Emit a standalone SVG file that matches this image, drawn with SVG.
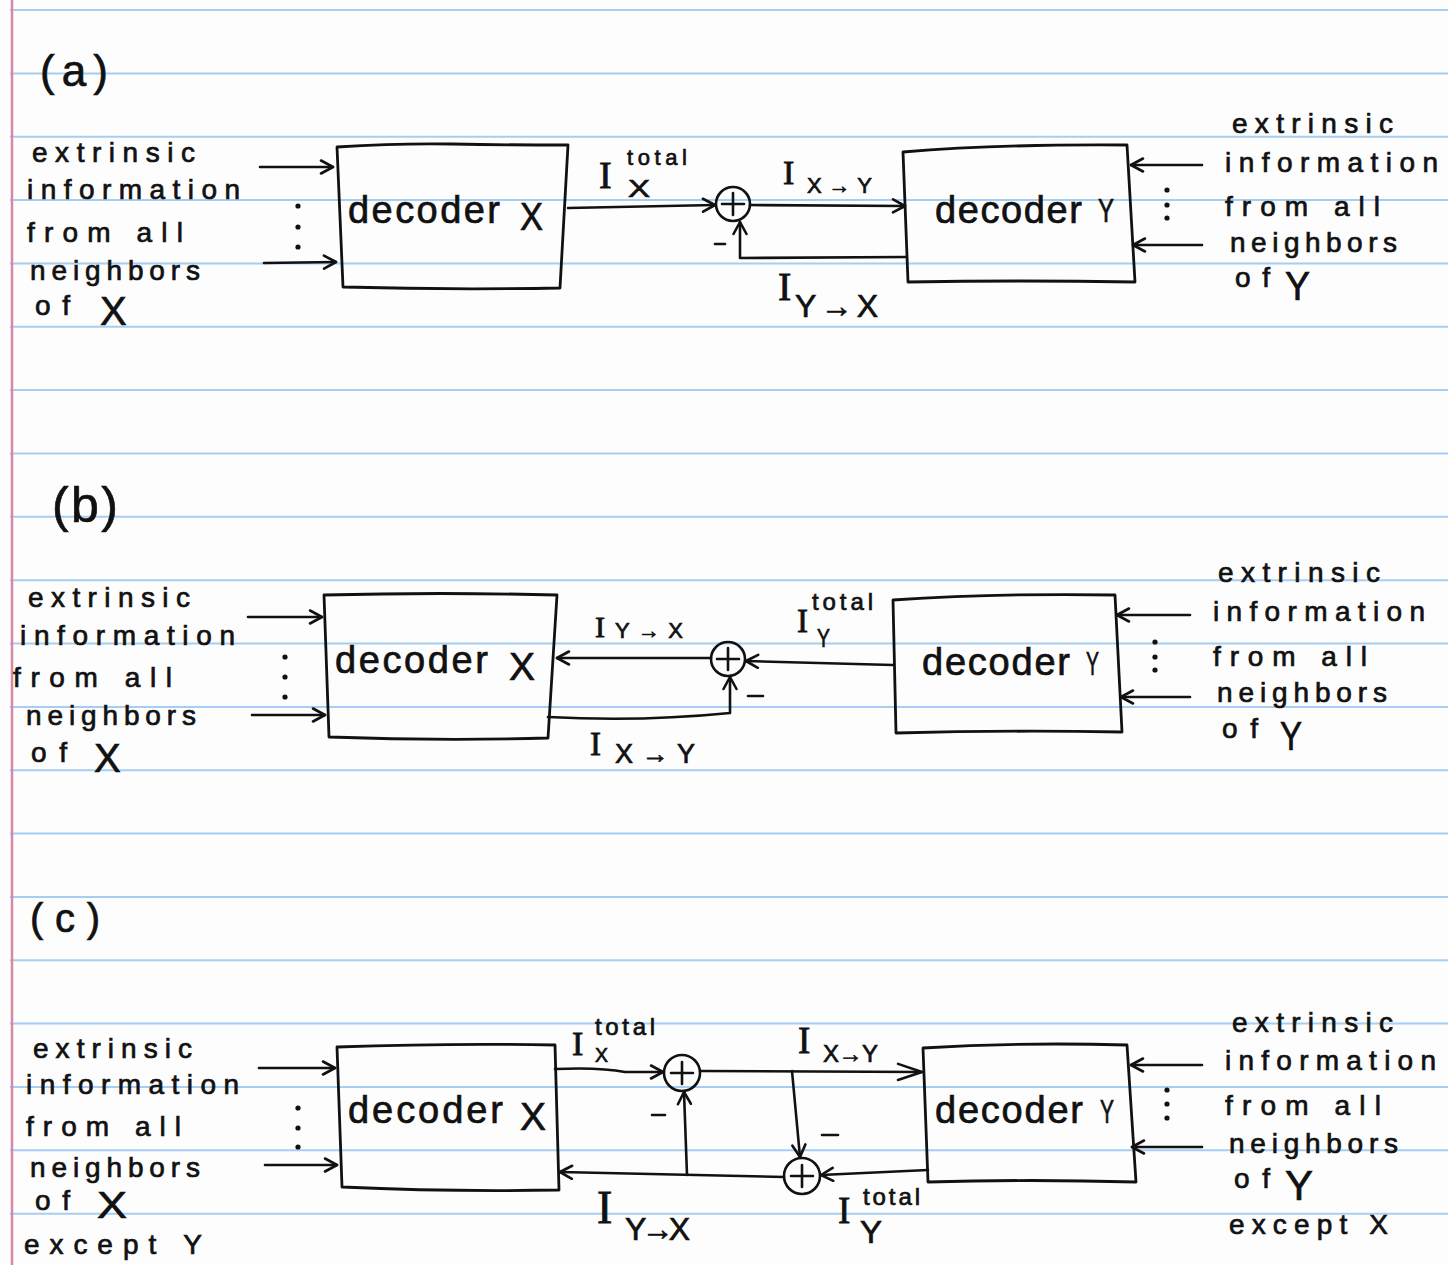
<svg xmlns="http://www.w3.org/2000/svg" width="1448" height="1265" viewBox="0 0 1448 1265">
<style>
.rule{stroke:#a6cdf3;stroke-width:2}
.margin{stroke:#d58aa6;stroke-width:2.5}
.ln{fill:none;stroke:#111;stroke-width:2.6;stroke-linecap:round;stroke-linejoin:round}
.box{fill:none;stroke:#111;stroke-width:2.8;stroke-linejoin:round}
.dot{fill:#111}
.hw{font-family:"Liberation Sans","DejaVu Sans",sans-serif;fill:#111;stroke:#111;stroke-width:0.7}
.side{font-size:28px}
.dec{font-size:38px}
.ii{font-family:"Liberation Serif","DejaVu Serif",serif;fill:#111;stroke:#111;stroke-width:0.8}
</style>
<defs>
<marker id="ah" viewBox="0 0 16 16" refX="14" refY="8" markerWidth="16" markerHeight="16" markerUnits="userSpaceOnUse" orient="auto">
<path d="M2,1.5 L14,8 L2,14.5" fill="none" stroke="#111" stroke-width="2.6" stroke-linecap="round" stroke-linejoin="round"/>
</marker>
<marker id="ahL" viewBox="0 0 28 20" refX="26" refY="10" markerWidth="28" markerHeight="20" markerUnits="userSpaceOnUse" orient="auto">
<path d="M2,2 L26,10 L2,18" fill="none" stroke="#111" stroke-width="2.6" stroke-linecap="round" stroke-linejoin="round"/>
</marker>
</defs>
<rect width="1448" height="1265" fill="#fdfdfd"/>
<g id="paper">
<line class="rule" x1="10" y1="10" x2="1448" y2="10"/>
<line class="rule" x1="10" y1="73.4" x2="1448" y2="73.4"/>
<line class="rule" x1="10" y1="136.7" x2="1448" y2="136.7"/>
<line class="rule" x1="10" y1="200" x2="1448" y2="200"/>
<line class="rule" x1="10" y1="263.4" x2="1448" y2="263.4"/>
<line class="rule" x1="10" y1="326.8" x2="1448" y2="326.8"/>
<line class="rule" x1="10" y1="390.1" x2="1448" y2="390.1"/>
<line class="rule" x1="10" y1="453.5" x2="1448" y2="453.5"/>
<line class="rule" x1="10" y1="516.8" x2="1448" y2="516.8"/>
<line class="rule" x1="10" y1="580.2" x2="1448" y2="580.2"/>
<line class="rule" x1="10" y1="643.5" x2="1448" y2="643.5"/>
<line class="rule" x1="10" y1="706.9" x2="1448" y2="706.9"/>
<line class="rule" x1="10" y1="770.2" x2="1448" y2="770.2"/>
<line class="rule" x1="10" y1="833.6" x2="1448" y2="833.6"/>
<line class="rule" x1="10" y1="896.9" x2="1448" y2="896.9"/>
<line class="rule" x1="10" y1="960.3" x2="1448" y2="960.3"/>
<line class="rule" x1="10" y1="1023.6" x2="1448" y2="1023.6"/>
<line class="rule" x1="10" y1="1087" x2="1448" y2="1087"/>
<line class="rule" x1="10" y1="1150.3" x2="1448" y2="1150.3"/>
<line class="rule" x1="10" y1="1213.7" x2="1448" y2="1213.7"/>
<line class="margin" x1="12" y1="0" x2="12" y2="1265"/>
</g>

<!-- ============ (a) ============ -->
<text class="hw" x="40" y="86" font-size="44" textLength="68" lengthAdjust="spacing">(a)</text>
<g id="a-inX">
<text class="hw side" x="32" y="162" textLength="163" lengthAdjust="spacing">extrinsic</text>
<text class="hw side" x="27" y="199" textLength="213" lengthAdjust="spacing">information</text>
<text class="hw side" x="27" y="242" textLength="156" lengthAdjust="spacing">from all</text>
<text class="hw side" x="30" y="280" textLength="170" lengthAdjust="spacing">neighbors</text>
<text class="hw side" x="35" y="315" textLength="35" lengthAdjust="spacing">of</text>
<text class="hw" x="100" y="325" font-size="40">X</text>
<circle class="dot" cx="298" cy="206" r="2.6"/><circle class="dot" cx="298" cy="227" r="2.6"/><circle class="dot" cx="298" cy="247" r="2.6"/>
</g>
<g id="a-decX">
<path class="box" d="M337,147 Q400,143 452,144 T568,145 L560,288 Q450,290 343,287 Z"/>
<text class="hw dec" x="348" y="223" textLength="152" lengthAdjust="spacing">decoder</text>
<text class="hw dec" x="520" y="230" textLength="23" lengthAdjust="spacingAndGlyphs">X</text>
</g>
<g id="a-sum">
<circle class="ln" cx="733" cy="204" r="17"/>
<path class="ln" d="M722,204 H744 M733,193 V215"/>
<path class="ln" d="M715,244 H725"/>
</g>
<g id="a-decY">
<path class="box" d="M903,152 Q1000,144 1127,145 L1135,282 Q1020,280 908,282 Z"/>
<text class="hw dec" x="935" y="223" textLength="147" lengthAdjust="spacing">decoder</text>
<text class="hw" x="1098" y="222" font-size="34" textLength="16" lengthAdjust="spacingAndGlyphs">Y</text>
</g>
<g id="a-inY">
<text class="hw side" x="1232" y="133" textLength="161" lengthAdjust="spacing">extrinsic</text>
<text class="hw side" x="1225" y="172" textLength="213" lengthAdjust="spacing">information</text>
<text class="hw side" x="1225" y="216" textLength="155" lengthAdjust="spacing">from all</text>
<text class="hw side" x="1230" y="252" textLength="167" lengthAdjust="spacing">neighbors</text>
<text class="hw side" x="1235" y="287" textLength="35" lengthAdjust="spacing">of</text>
<text class="hw" x="1285" y="300" font-size="40" textLength="25" lengthAdjust="spacingAndGlyphs">Y</text>
<circle class="dot" cx="1167" cy="190" r="2.6"/><circle class="dot" cx="1167" cy="205" r="2.6"/><circle class="dot" cx="1167" cy="218" r="2.6"/>
</g>
<g id="a-labels">
<text class="ii" x="599" y="188" font-size="38">I</text>
<text class="hw" x="627" y="165" font-size="22" textLength="60" lengthAdjust="spacing">total</text>
<text class="hw" x="628" y="197" font-size="24" textLength="22" lengthAdjust="spacingAndGlyphs">X</text>
<text class="ii" x="783" y="184" font-size="34">I</text>
<text class="hw" x="807" y="193" font-size="22" textLength="65" lengthAdjust="spacing">X→Y</text>
<text class="ii" x="778" y="300" font-size="40">I</text>
<text class="hw" x="795" y="317" font-size="32" textLength="83" lengthAdjust="spacing">Y→X</text>
</g>
<g id="a-connectors">
<path class="ln" d="M260,167 L333,167" marker-end="url(#ah)"/>
<path class="ln" d="M264,263 L336,262" marker-end="url(#ah)"/>
<path class="ln" d="M568,208 L715,205" marker-end="url(#ah)"/>
<path class="ln" d="M750,205 L905,206" marker-end="url(#ah)"/>
<path class="ln" d="M906,257 L740,258 L740,222" marker-end="url(#ah)"/>
<path class="ln" d="M1202,165 L1131,165" marker-end="url(#ah)"/>
<path class="ln" d="M1202,245 L1133,245" marker-end="url(#ah)"/>
</g>

<!-- ============ (b) ============ -->
<text class="hw" x="52" y="522" font-size="50" textLength="66" lengthAdjust="spacing">(b)</text>
<g id="b-inX">
<text class="hw side" x="28" y="607" textLength="162" lengthAdjust="spacing">extrinsic</text>
<text class="hw side" x="20" y="645" textLength="215" lengthAdjust="spacing">information</text>
<text class="hw side" x="13" y="687" textLength="159" lengthAdjust="spacing">from all</text>
<text class="hw side" x="26" y="725" textLength="170" lengthAdjust="spacing">neighbors</text>
<text class="hw side" x="31" y="762" textLength="36" lengthAdjust="spacing">of</text>
<text class="hw" x="94" y="772" font-size="40">X</text>
<circle class="dot" cx="285" cy="657" r="2.6"/><circle class="dot" cx="285" cy="677" r="2.6"/><circle class="dot" cx="285" cy="697" r="2.6"/>
</g>
<g id="b-decX">
<path class="box" d="M324,595 Q440,592 557,595 L548,738 Q440,741 329,737 Z"/>
<text class="hw dec" x="335" y="673" textLength="153" lengthAdjust="spacing">decoder</text>
<text class="hw dec" x="509" y="680" textLength="26" lengthAdjust="spacingAndGlyphs">X</text>
</g>
<g id="b-sum">
<circle class="ln" cx="728" cy="659" r="17"/>
<path class="ln" d="M717,659 H739 M728,648 V670"/>
<path class="ln" d="M748,696 H763"/>
</g>
<g id="b-decY">
<path class="box" d="M893,600 Q1000,593 1115,595 L1122,732 Q1010,730 896,733 Z"/>
<text class="hw dec" x="922" y="675" textLength="148" lengthAdjust="spacing">decoder</text>
<text class="hw" x="1086" y="675" font-size="34" textLength="13" lengthAdjust="spacingAndGlyphs">Y</text>
</g>
<g id="b-inY">
<text class="hw side" x="1218" y="582" textLength="162" lengthAdjust="spacing">extrinsic</text>
<text class="hw side" x="1213" y="621" textLength="212" lengthAdjust="spacing">information</text>
<text class="hw side" x="1213" y="666" textLength="154" lengthAdjust="spacing">from all</text>
<text class="hw side" x="1217" y="702" textLength="170" lengthAdjust="spacing">neighbors</text>
<text class="hw side" x="1222" y="738" textLength="36" lengthAdjust="spacing">of</text>
<text class="hw" x="1280" y="750" font-size="40" textLength="22" lengthAdjust="spacingAndGlyphs">Y</text>
<circle class="dot" cx="1155" cy="642" r="2.6"/><circle class="dot" cx="1155" cy="657" r="2.6"/><circle class="dot" cx="1155" cy="670" r="2.6"/>
</g>
<g id="b-labels">
<text class="ii" x="595" y="637" font-size="30">I</text>
<text class="hw" x="615" y="638" font-size="22" textLength="68" lengthAdjust="spacing">Y→X</text>
<text class="ii" x="590" y="755" font-size="33">I</text>
<text class="hw" x="615" y="763" font-size="27" textLength="80" lengthAdjust="spacing">X→Y</text>
<text class="ii" x="797" y="632" font-size="33">I</text>
<text class="hw" x="812" y="610" font-size="24" textLength="61" lengthAdjust="spacing">total</text>
<text class="hw" x="817" y="647" font-size="26" textLength="13" lengthAdjust="spacingAndGlyphs">Y</text>
</g>
<g id="b-connectors">
<path class="ln" d="M248,617 L322,617" marker-end="url(#ah)"/>
<path class="ln" d="M252,715 L325,715" marker-end="url(#ah)"/>
<path class="ln" d="M711,658 L557,658" marker-end="url(#ah)"/>
<path class="ln" d="M893,665 L746,661" marker-end="url(#ah)"/>
<path class="ln" d="M548,717 Q640,722 730,713 L730,677" marker-end="url(#ah)"/>
<path class="ln" d="M1190,615 L1117,615" marker-end="url(#ah)"/>
<path class="ln" d="M1190,697 L1121,697" marker-end="url(#ah)"/>
</g>

<!-- ============ (c) ============ -->
<text class="hw" x="30" y="932" font-size="40" textLength="70" lengthAdjust="spacing">(c)</text>
<g id="c-inX">
<text class="hw side" x="33" y="1058" textLength="159" lengthAdjust="spacing">extrinsic</text>
<text class="hw side" x="26" y="1094" textLength="213" lengthAdjust="spacing">information</text>
<text class="hw side" x="26" y="1136" textLength="155" lengthAdjust="spacing">from all</text>
<text class="hw side" x="30" y="1177" textLength="170" lengthAdjust="spacing">neighbors</text>
<text class="hw side" x="35" y="1210" textLength="35" lengthAdjust="spacing">of</text>
<text class="hw" x="97" y="1218" font-size="36" textLength="30" lengthAdjust="spacingAndGlyphs">X</text>
<text class="hw side" x="24" y="1254" textLength="178" lengthAdjust="spacing">except Y</text>
<circle class="dot" cx="298" cy="1108" r="2.6"/><circle class="dot" cx="298" cy="1128" r="2.6"/><circle class="dot" cx="298" cy="1147" r="2.6"/>
</g>
<g id="c-decX">
<path class="box" d="M337,1047 Q450,1043 555,1045 L559,1190 Q450,1192 342,1187 Z"/>
<text class="hw dec" x="348" y="1123" textLength="155" lengthAdjust="spacing">decoder</text>
<text class="hw dec" x="520" y="1130" textLength="26" lengthAdjust="spacingAndGlyphs">X</text>
</g>
<g id="c-sum1">
<circle class="ln" cx="682" cy="1073" r="18"/>
<path class="ln" d="M671,1073 H693 M682,1062 V1084"/>
<path class="ln" d="M652,1115 H665"/>
</g>
<g id="c-sum2">
<circle class="ln" cx="802" cy="1176" r="18"/>
<path class="ln" d="M791,1176 H813 M802,1165 V1187"/>
<path class="ln" d="M822,1135 H838"/>
</g>
<g id="c-decY">
<path class="box" d="M923,1048 Q1020,1042 1127,1045 L1136,1182 Q1030,1179 928,1182 Z"/>
<text class="hw dec" x="935" y="1123" textLength="148" lengthAdjust="spacing">decoder</text>
<text class="hw" x="1100" y="1123" font-size="34" textLength="14" lengthAdjust="spacingAndGlyphs">Y</text>
</g>
<g id="c-inY">
<text class="hw side" x="1232" y="1032" textLength="161" lengthAdjust="spacing">extrinsic</text>
<text class="hw side" x="1225" y="1070" textLength="211" lengthAdjust="spacing">information</text>
<text class="hw side" x="1225" y="1115" textLength="156" lengthAdjust="spacing">from all</text>
<text class="hw side" x="1229" y="1153" textLength="169" lengthAdjust="spacing">neighbors</text>
<text class="hw side" x="1234" y="1188" textLength="36" lengthAdjust="spacing">of</text>
<text class="hw" x="1285" y="1200" font-size="42" textLength="28" lengthAdjust="spacingAndGlyphs">Y</text>
<text class="hw side" x="1229" y="1234" textLength="159" lengthAdjust="spacing">except X</text>
<circle class="dot" cx="1167" cy="1090" r="2.6"/><circle class="dot" cx="1167" cy="1104" r="2.6"/><circle class="dot" cx="1167" cy="1118" r="2.6"/>
</g>
<g id="c-labels">
<text class="ii" x="572" y="1055" font-size="34">I</text>
<text class="hw" x="595" y="1035" font-size="24" textLength="60" lengthAdjust="spacing">total</text>
<text class="hw" x="595" y="1062" font-size="20" textLength="13" lengthAdjust="spacingAndGlyphs">X</text>
<text class="ii" x="798" y="1053" font-size="37">I</text>
<text class="hw" x="823" y="1062" font-size="24" textLength="55" lengthAdjust="spacing">X→Y</text>
<text class="ii" x="597" y="1223" font-size="46">I</text>
<text class="hw" x="625" y="1240" font-size="32" textLength="65" lengthAdjust="spacing">Y→X</text>
<text class="ii" x="838" y="1223" font-size="37">I</text>
<text class="hw" x="863" y="1205" font-size="24" textLength="57" lengthAdjust="spacing">total</text>
<text class="hw" x="860" y="1243" font-size="32" textLength="22" lengthAdjust="spacingAndGlyphs">Y</text>
</g>
<g id="c-connectors">
<path class="ln" d="M259,1068 L335,1068" marker-end="url(#ah)"/>
<path class="ln" d="M265,1165 L337,1165" marker-end="url(#ah)"/>
<path class="ln" d="M555,1069 Q600,1067 625,1072 L663,1072" marker-end="url(#ah)"/>
<path class="ln" d="M700,1071 L922,1072" marker-end="url(#ahL)"/>
<path class="ln" d="M792,1071 L800,1157" marker-end="url(#ah)"/>
<path class="ln" d="M928,1170 L821,1175" marker-end="url(#ah)"/>
<path class="ln" d="M784,1177 L560,1172" marker-end="url(#ah)"/>
<path class="ln" d="M687,1175 L684,1092" marker-end="url(#ah)"/>
<path class="ln" d="M1202,1065 L1131,1065" marker-end="url(#ah)"/>
<path class="ln" d="M1202,1147 L1132,1147" marker-end="url(#ah)"/>
</g>
</svg>
